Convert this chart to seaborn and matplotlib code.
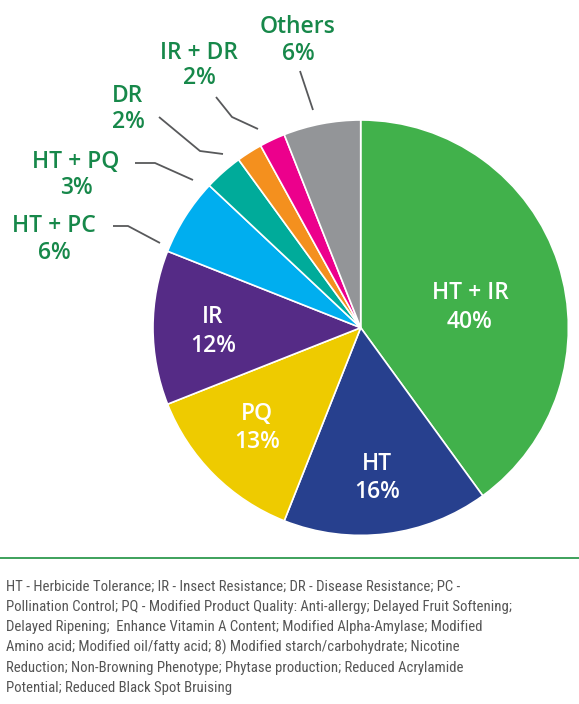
import matplotlib
matplotlib.use("Agg")
import matplotlib.pyplot as plt
from matplotlib import font_manager as fm
from matplotlib.font_manager import FontProperties
from matplotlib.lines import Line2D
import seaborn as sns

# ---- data ----
categories = ["HT + IR", "HT", "PQ", "IR", "HT + PC", "HT + PQ", "DR", "IR + DR", "Others"]
shares = [40, 16, 13, 12, 6, 3, 2, 2, 6]
colors = ["#41b14b", "#27408e", "#eecb00", "#552b86", "#00aeef",
          "#00ab9a", "#f4901e", "#ec008c", "#939598"]
footnote_lines = [
    "HT - Herbicide Tolerance; IR - Insect Resistance; DR - Disease Resistance; PC -",
    "Pollination Control; PQ - Modified Product Quality: Anti-allergy; Delayed Fruit Softening;",
    "Delayed Ripening;  Enhance Vitamin A Content; Modified Alpha-Amylase; Modified",
    "Amino acid; Modified oil/fatty acid; 8) Modified starch/carbohydrate; Nicotine",
    "Reduction; Non-Browning Phenotype; Phytase production; Reduced Acrylamide",
    "Potential; Reduced Black Spot Bruising",
]

sns.set_theme(style="white")
names = {f.name for f in fm.fontManager.ttflist}
main_family = ["Open Sans", "DejaVu Sans"] if "Open Sans" in names else ["DejaVu Sans"]
plt.rcParams["font.family"] = main_family

# find a condensed / narrow regular font for the footnote, if any
prefs = ["opensanscondensed", "robotocondensed", "liberationsansnarrow", "dejavusanscondensed"]
cands = []
for f in fm.fontManager.ttflist:
    base = f.fname.lower().split("/")[-1].replace("-", "").replace("_", "").replace(" ", "")
    if f.weight in (400, "normal", "regular") and f.style == "normal":
        for rank, p in enumerate(prefs):
            if p in base and not any(k in base for k in ("bold", "italic", "oblique", "light")):
                cands.append((rank, f.fname))
if cands:
    cands.sort()
    foot_fp = FontProperties(fname=cands[0][1])
else:
    foot_fp = FontProperties(family=main_family)

W, H = 579, 704
fig = plt.figure(figsize=(W / 100, H / 100), dpi=100)
ax = fig.add_axes([0, 0, 1, 1])
ax.set_xlim(0, W)
ax.set_ylim(0, H)
ax.set_aspect("equal")
ax.axis("off")

def Y(y):
    return H - y

cx, cy, R = 360.7, 327.7, 207.7
ax.pie(shares, colors=colors, startangle=90, counterclock=False,
       center=(cx, Y(cy)), radius=R,
       wedgeprops=dict(edgecolor="white", linewidth=1.2))
ax.set_xlim(0, W)
ax.set_ylim(0, H)

inside_pos = {"HT + IR": (470, 299, 327.5), "HT": (377, 470, 498.5),
              "PQ": (257, 420, 448), "IR": (213, 322.7, 351.5)}
outside_pos = {"Others": (298, 33, 60), "IR + DR": (199, 59, 84), "DR": (128, 102, 128),
               "HT + PQ": (76, 168, 194), "HT + PC": (54, 232, 259)}
leaders = {
    "Others": [(300, 71), (313, 110)],
    "IR + DR": [(216, 97), (232, 117), (258, 129)],
    "DR": [(159, 117), (200, 151), (223, 154)],
    "HT + PQ": [(135, 163), (155, 163), (193, 180)],
    "HT + PC": [(113, 226), (128, 226), (160, 243)],
}

fs = 16.5
for cat, val in zip(categories, shares):
    if cat in inside_pos:
        x, y1, y2 = inside_pos[cat]
        col = "white"
    else:
        x, y1, y2 = outside_pos[cat]
        col = "#17884a"
    ax.text(x, Y(y1), cat, ha="center", va="baseline", fontsize=fs,
            fontweight="semibold", color=col)
    ax.text(x, Y(y2), f"{val}%", ha="center", va="baseline", fontsize=fs,
            fontweight="semibold", color=col)
    if cat in leaders:
        pts = leaders[cat]
        ax.add_line(Line2D([p[0] for p in pts], [Y(p[1]) for p in pts],
                           color="#58595b", linewidth=1.3, solid_capstyle="butt"))

ax.add_line(Line2D([0, W], [Y(558.3), Y(558.3)], color="#2e9a4e", linewidth=1.3))

# footnote: size chosen so that the widest line spans the reference width
foot_texts = []
for i, line in enumerate(footnote_lines):
    t = ax.text(6, Y(590.5 + i * 20.3), line, ha="left", va="baseline",
                fontproperties=foot_fp.copy(), color="#555555")
    foot_texts.append(t)
size = 11.0
renderer = fig.canvas.get_renderer()
for _ in range(3):
    foot_texts[1].set_fontsize(size)
    x1 = foot_texts[1].get_window_extent(renderer=renderer).x1
    size = size * (512 - 6) / max(x1 - 6, 1)
size = min(size, 12.5)
for t in foot_texts:
    t.set_fontsize(size)

fig.savefig("out.png", dpi=100)
